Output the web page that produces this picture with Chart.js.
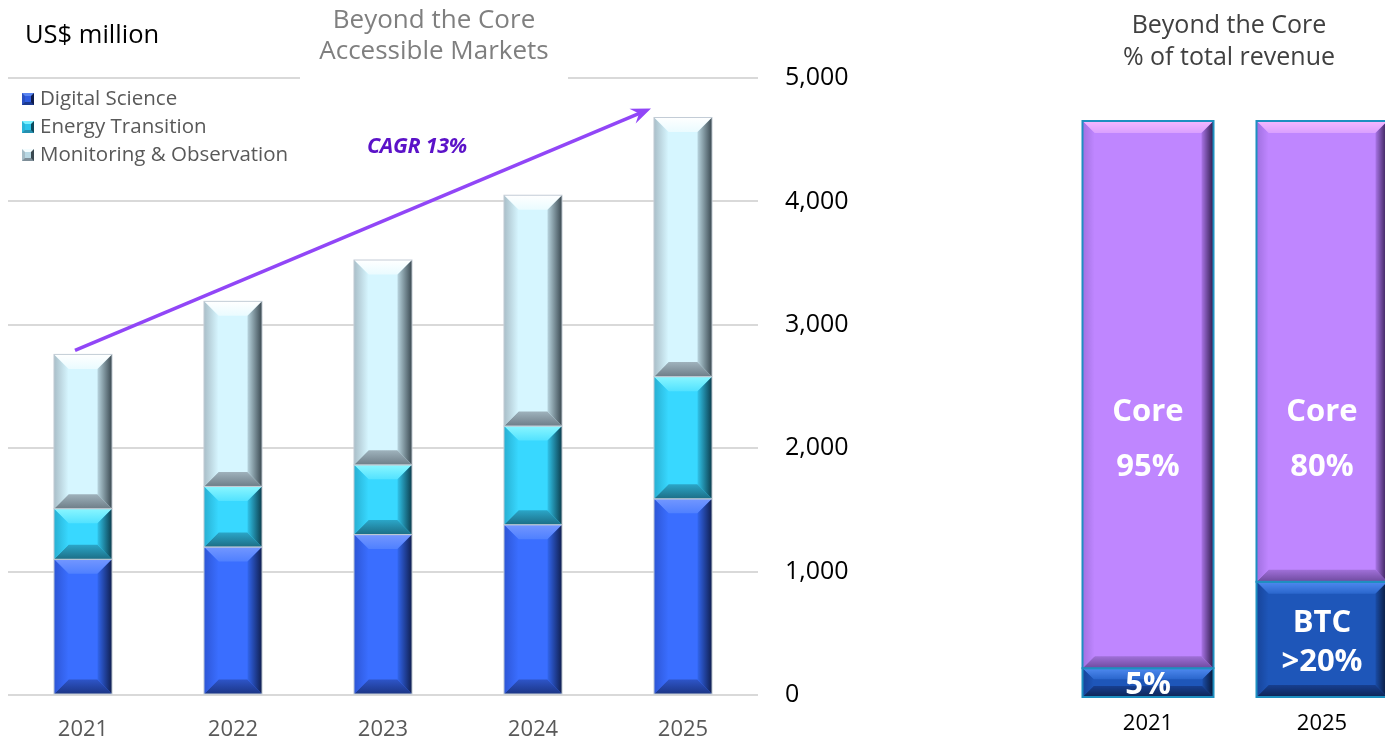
<!DOCTYPE html>
<html><head><meta charset="utf-8">
<script src="https://cdn.jsdelivr.net/npm/chart.js@4"></script>
<style>
html,body{margin:0;padding:0;width:1385px;height:741px;overflow:hidden;background:#fff;font-family:"Open Sans",sans-serif;}
#left{position:absolute;left:0;top:0;width:870px;height:741px;}
#right{position:absolute;left:1061px;top:0;width:348px;height:741px;}
.abs{position:absolute;white-space:nowrap;}
.leg{position:absolute;left:22px;font-size:20.5px;color:#595959;line-height:28px;}
.ico{display:inline-block;width:6px;height:6px;border-style:solid;border-width:3px;vertical-align:0px;margin-right:6px;}
</style></head><body>
<div id="left"><canvas id="c1"></canvas></div>
<div id="right"><canvas id="c2"></canvas></div>
<div class="abs" style="left:25px;top:16px;font-size:25.5px;color:#000;">US$ million</div>
<div class="abs" style="left:300px;top:3px;width:268px;height:83px;background:#fff;text-align:center;font-size:26px;line-height:31px;color:#7f7f7f;">Beyond the Core<br>Accessible Markets</div>
<div class="leg" style="top:83px;">
<div><span class="ico" style="background:#2E5BE0;border-color:#5A85F0 #0E1C4C #1B3A90 #2A4FC0;"></span>Digital Science</div>
<div><span class="ico" style="background:#2CC4EC;border-color:#7AF0FF #0C4A5C #2590B0 #2AB5D8;"></span>Energy Transition</div>
<div><span class="ico" style="background:#B8D8E4;border-color:#F4FDFF #3A4850 #7E8E98 #A5BCC6;"></span>Monitoring &amp; Observation</div>
</div>
<div class="abs" style="left:367px;top:130px;font-size:21.5px;font-weight:bold;font-style:italic;color:#5B12C8;letter-spacing:-0.3px;">CAGR 13%</div>
<div class="abs" style="left:1079px;top:7px;width:300px;text-align:center;font-size:25px;line-height:32px;color:#404040;">Beyond the Core<br>% of total revenue</div>
<script>
const years = ['2021','2022','2023','2024','2025'];
const digitalScience = [1100, 1200, 1300, 1380, 1590];
const energyTransition = [410, 490, 565, 800, 990];
const monitoringObservation = [1250, 1500, 1660, 1870, 2100];
const yTicks = [0, 1000, 2000, 3000, 4000, 5000];

const shareYears = ['2021','2025'];
const coreShare = [95, 80];
const btcShare = [5, 20];
const coreLabels = [['Core','95%'], ['Core','80%']];
const btcLabels = [['5%'], ['BTC','>20%']];

function grad(ctx, x0, y0, x1, y1, c0, c1){
  const g = ctx.createLinearGradient(x0, y0, x1, y1);
  g.addColorStop(0, c0); g.addColorStop(1, c1); return g;
}
function poly(ctx, pts, fill){
  ctx.beginPath(); ctx.moveTo(pts[0][0], pts[0][1]);
  for (let i=1;i<pts.length;i++) ctx.lineTo(pts[i][0], pts[i][1]);
  ctx.closePath(); ctx.fillStyle = fill; ctx.fill();
}
const bevelPlugin = {
  id: 'bevel',
  afterDatasetsDraw(chart, args, opts){
    const ctx = chart.ctx;
    chart.data.datasets.forEach((ds, i) => {
      const meta = chart.getDatasetMeta(i);
      const c = ds.bevel;
      meta.data.forEach(el => {
        const p = el.getProps(['x','y','base','width'], true);
        const l = p.x - p.width/2, r = p.x + p.width/2;
        const t = Math.min(p.y, p.base), b = Math.max(p.y, p.base);
        const h = b - t;
        const s = Math.min(opts.size, h/2.6, p.width/4);
        ctx.save();
        poly(ctx, [[l,t],[r,t],[r-s,t+s],[l+s,t+s]], grad(ctx,0,t,0,t+s,c.top0,c.top1));
        poly(ctx, [[l,b],[r,b],[r-s,b-s],[l+s,b-s]], grad(ctx,0,b,0,b-s,c.bot0,c.bot1));
        poly(ctx, [[l,t],[l+s,t+s],[l+s,b-s],[l,b]], grad(ctx,l,0,l+s,0,c.left0,c.left1));
        poly(ctx, [[r,t],[r-s,t+s],[r-s,b-s],[r,b]], grad(ctx,r,0,r-s,0,c.right0,c.right1));
        ctx.lineWidth = opts.border;
        ctx.strokeStyle = opts.borderColor;
        ctx.strokeRect(l, t, p.width, h);
        ctx.restore();
      });
    });
  }
};

const arrowPlugin = {
  id: 'arrow',
  afterDatasetsDraw(chart){
    const xs = chart.scales.x, ys = chart.scales.y;
    const totals = years.map((_, i) => digitalScience[i] + energyTransition[i] + monitoringObservation[i]);
    const n = years.length - 1;
    const x0 = xs.getPixelForValue(0) - 8, y0 = ys.getPixelForValue(totals[0]) - 4;
    const x1 = xs.getPixelForValue(n) - 32, y1 = ys.getPixelForValue(totals[n]) - 9;
    const ctx = chart.ctx;
    const ang = Math.atan2(y1 - y0, x1 - x0);
    const L = 20, W = 8;
    ctx.save();
    ctx.strokeStyle = '#9146F7'; ctx.fillStyle = '#9146F7';
    ctx.lineWidth = 3.5; ctx.lineCap = 'butt';
    ctx.beginPath(); ctx.moveTo(x0, y0);
    ctx.lineTo(x1 - Math.cos(ang)*L*0.6, y1 - Math.sin(ang)*L*0.6); ctx.stroke();
    const bx = x1 - Math.cos(ang)*L, by = y1 - Math.sin(ang)*L;
    const nx = -Math.sin(ang), ny = Math.cos(ang);
    const mx = x1 - Math.cos(ang)*L*0.65, my = y1 - Math.sin(ang)*L*0.65;
    ctx.beginPath(); ctx.moveTo(x1, y1);
    ctx.lineTo(bx + nx*W, by + ny*W);
    ctx.lineTo(mx, my);
    ctx.lineTo(bx - nx*W, by - ny*W);
    ctx.closePath(); ctx.fill();
    ctx.restore();
  }
};

const shareLabelPlugin = {
  id: 'shareLabels',
  afterDatasetsDraw(chart){
    const ctx = chart.ctx;
    const ys = chart.scales.y;
    ctx.save();
    ctx.fillStyle = '#fff';
    ctx.font = 'bold 31px "Open Sans"';
    ctx.textAlign = 'center'; ctx.textBaseline = 'middle';
    const btcMeta = chart.getDatasetMeta(0), coreMeta = chart.getDatasetMeta(1);
    coreMeta.data.forEach((el, i) => {
      const cy = ys.getPixelForValue(45) + 2;
      const lines = coreLabels[i];
      lines.forEach((tx, k) => ctx.fillText(tx, el.x, cy + (k - (lines.length-1)/2) * 55));
    });
    btcMeta.data.forEach((el, i) => {
      const cy = (el.y + el.base) / 2 + 3;
      const lines = btcLabels[i];
      lines.forEach((tx, k) => ctx.fillText(tx, el.x, cy + (k - (lines.length-1)/2) * 39));
    });
    ctx.restore();
  }
};

const bevDS = {top0:'#7397FF',top1:'#4F80FF',bot0:'#1B3585',bot1:'#2E55C8',left0:'#2D56D6',left1:'#3A6EFF',right0:'#101E4E',right1:'#3266EE'};
const bevET = {top0:'#8AF6FF',top1:'#52E2FF',bot0:'#1C6E86',bot1:'#2BA6C8',left0:'#28AFD2',left1:'#38D8FF',right0:'#0C3C4C',right1:'#30C4EA'};
const bevMO = {top0:'#FFFFFF',top1:'#EAFBFF',bot0:'#6E7E88',bot1:'#9FB2BC',left0:'#A9BEC8',left1:'#D6F6FF',right0:'#3A4850',right1:'#B8D4DE'};
const bevCore = {top0:'#F6B8FF',top1:'#D9A0FF',bot0:'#6E4A9E',bot1:'#A070D8',left0:'#A070E0',left1:'#BF86FF',right0:'#2E1A4A',right1:'#A974E6'};
const bevBTC = {top0:'#4F8AF0',top1:'#2A66CC',bot0:'#0E2556',bot1:'#173F90',left0:'#17449A',left1:'#1E56B9',right0:'#081634',right1:'#1A4CA6'};

new Chart(document.getElementById('c1'), {
  type: 'bar',
  data: {
    labels: years,
    datasets: [
      {label:'Digital Science', data:digitalScience, backgroundColor:'#3A6EFF', bevel:bevDS},
      {label:'Energy Transition', data:energyTransition, backgroundColor:'#38D8FF', bevel:bevET},
      {label:'Monitoring & Observation', data:monitoringObservation, backgroundColor:'#D6F6FF', bevel:bevMO}
    ]
  },
  options: {
    responsive: true, maintainAspectRatio: false, animation: false,
    datasets: { bar: { categoryPercentage: 1, barPercentage: 0.387, borderWidth: 0 } },
    layout: { padding: { left: 8, top: 78, right: 0, bottom: 0 } },
    plugins: { legend: {display:false}, tooltip: {enabled:false}, title:{display:false},
      bevel: { size: 15, border: 1, borderColor: '#C4CDD6' } },
    scales: {
      x: { stacked: true, grid: {display:false}, border: {display:false},
        ticks: { color:'#595959', font:{size:22, family:'"Open Sans"'}, padding: 14 },
        afterFit(s){ s.height = 46; } },
      y: { stacked: true, position: 'right', min: 0, max: 5000,
        afterBuildTicks(s){ s.ticks = yTicks.map(v => ({value: v})); },
        grid: { color:'#D9D9D9', lineWidth: 2, drawTicks: false }, border: {display:false},
        ticks: { color:'#000', font:{size:25, family:'"Open Sans"'}, padding: 27,
          callback: v => v.toLocaleString('en-US') },
        afterFit(s){ s.width = 112; } }
    }
  },
  plugins: [bevelPlugin, arrowPlugin]
});

new Chart(document.getElementById('c2'), {
  type: 'bar',
  data: {
    labels: shareYears,
    datasets: [
      {label:'BTC', data:btcShare, backgroundColor:'#1E56B9', bevel:bevBTC},
      {label:'Core', data:coreShare, backgroundColor:'#BF86FF', bevel:bevCore}
    ]
  },
  options: {
    responsive: true, maintainAspectRatio: false, animation: false,
    datasets: { bar: { categoryPercentage: 1, barPercentage: 0.753, borderWidth: 0 } },
    layout: { padding: { left: 0, top: 121, right: 0, bottom: 0 } },
    plugins: { legend: {display:false}, tooltip: {enabled:false},
      bevel: { size: 12, border: 2, borderColor: '#1E8FC0' } },
    scales: {
      x: { stacked: true, grid: {display:false}, border: {display:false},
        ticks: { color:'#000', font:{size:22, family:'"Open Sans"'}, padding: 6 },
        afterFit(s){ s.height = 44; } },
      y: { stacked: true, display: false, min: 0, max: 100 }
    }
  },
  plugins: [bevelPlugin, shareLabelPlugin]
});
</script>
</body></html>
